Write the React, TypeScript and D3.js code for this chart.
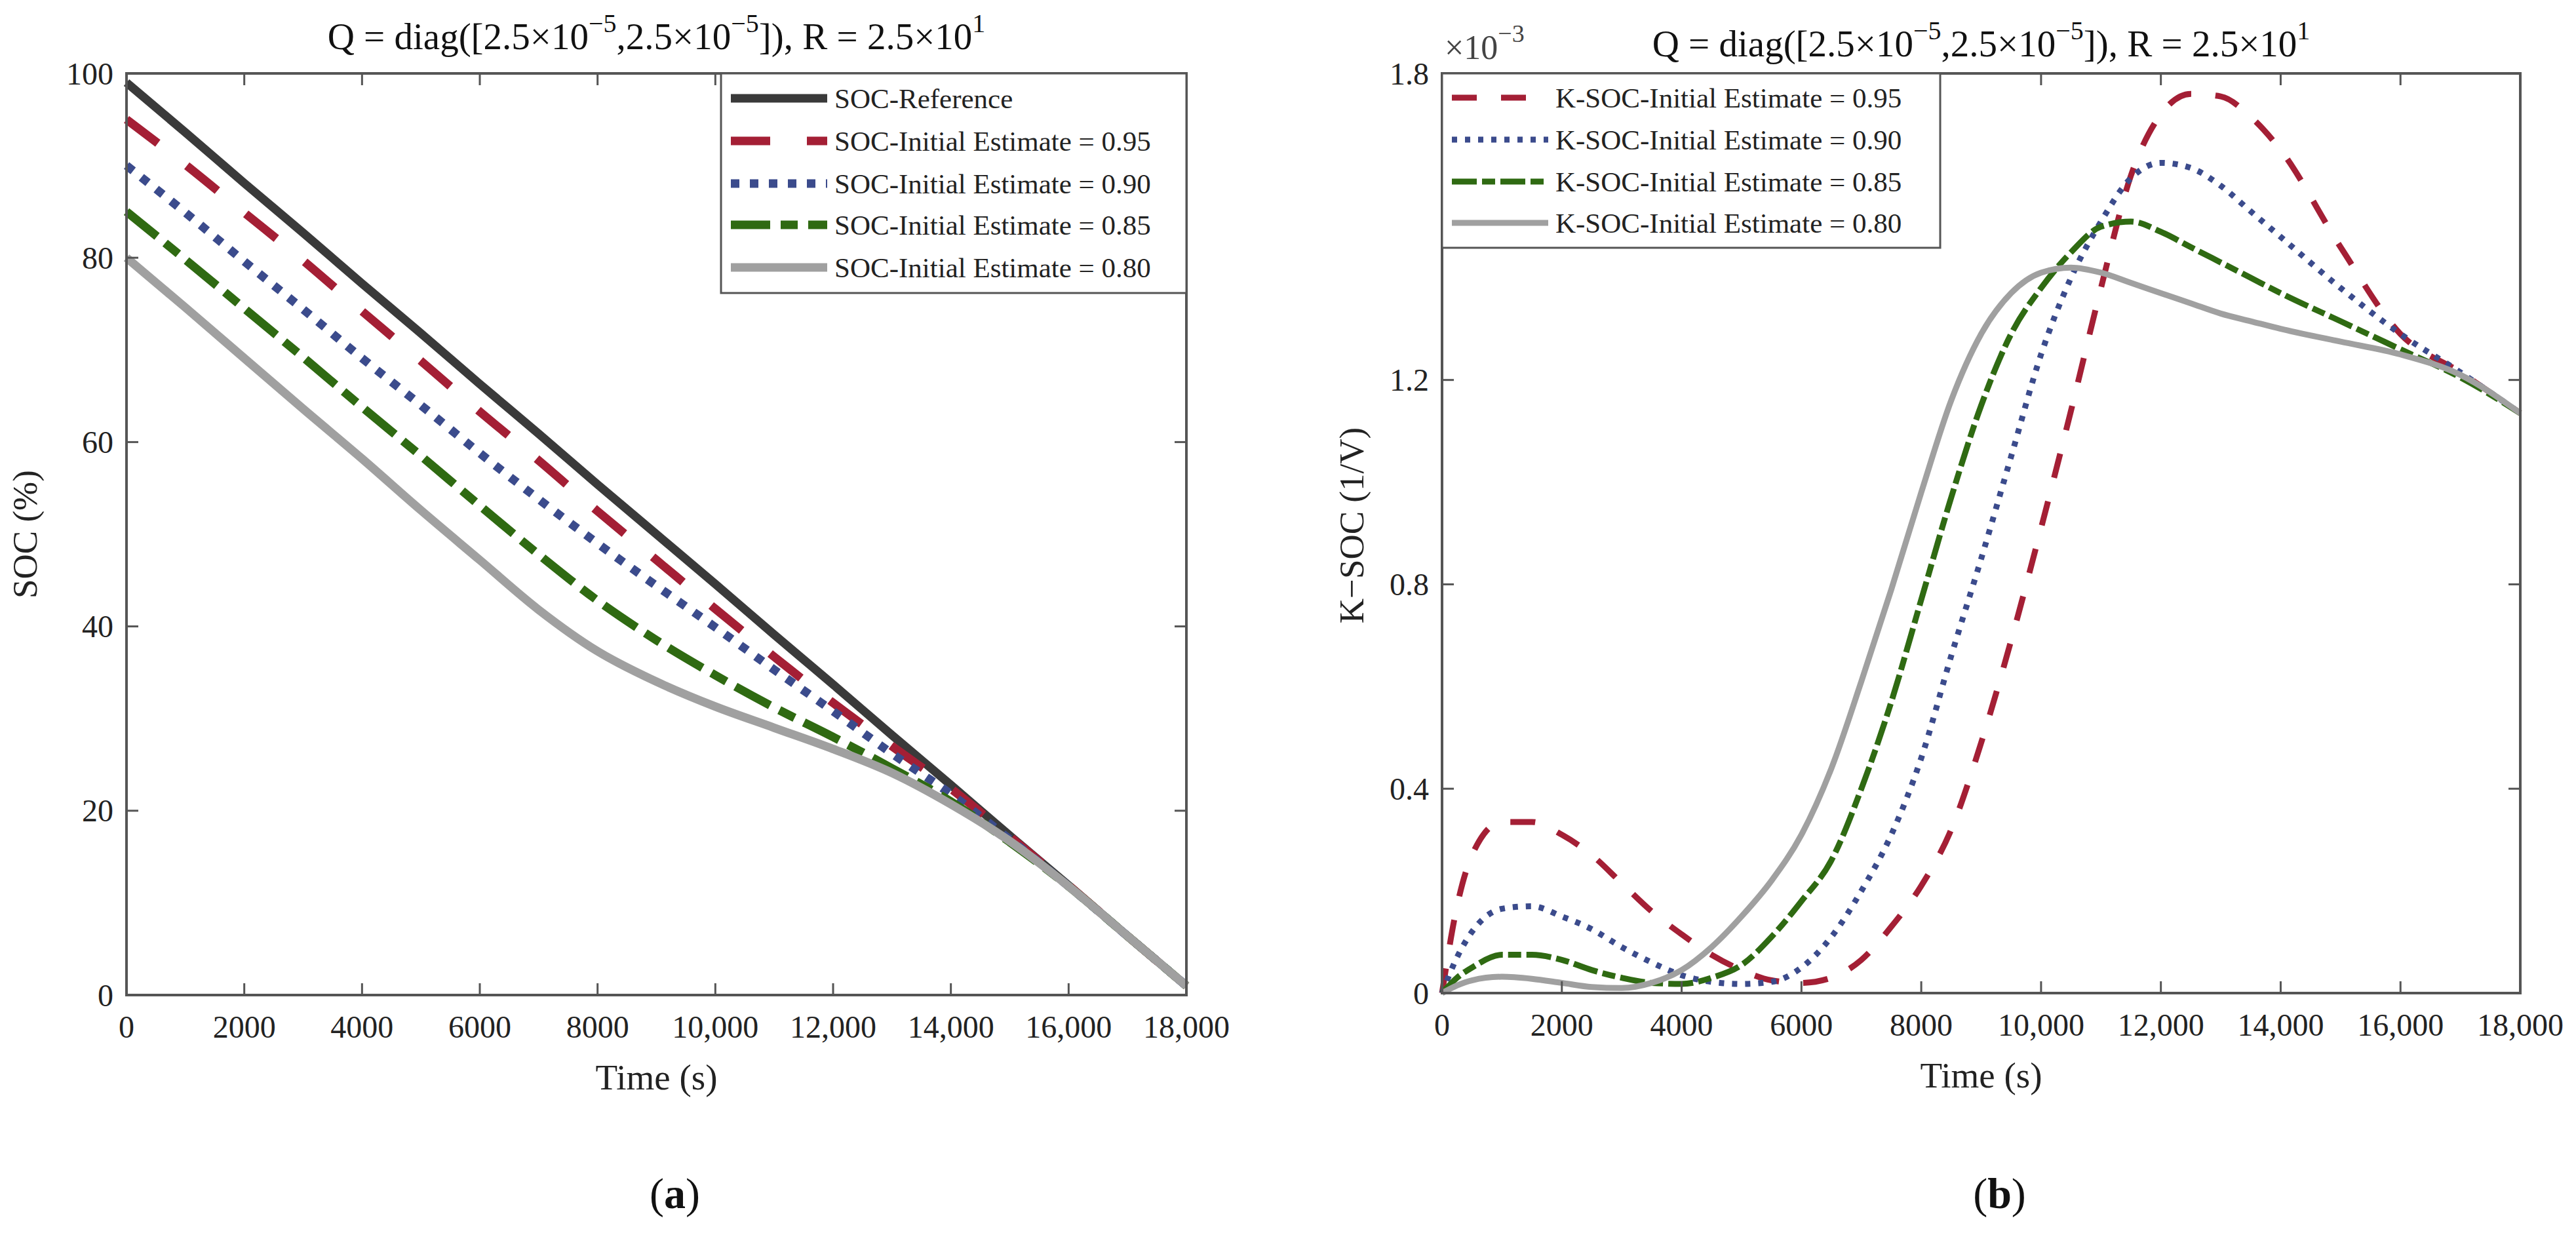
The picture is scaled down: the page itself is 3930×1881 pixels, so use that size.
import React, { useEffect, useRef } from 'react';
import * as d3 from 'd3';

// ---- panel (a): SOC estimates, sampled every 1000 s ----
const timeSoc = [0, 1000, 2000, 3000, 4000, 5000, 6000, 7000, 8000, 9000, 10000, 11000, 12000, 13000, 14000, 15000, 16000, 17000, 18000];
const socReference = [99, 93.6, 88.1, 82.7, 77.2, 71.8, 66.3, 60.9, 55.4, 50, 44.6, 39.1, 33.7, 28.2, 22.8, 17.3, 11.9, 6.4, 1];
const socEst095 = [95, 90.1, 84.9, 79.7, 74.2, 68.8, 63.3, 58.0, 52.5, 47.2, 41.9, 36.7, 31.7, 27.0, 22.4, 17.2, 11.9, 6.4, 1];
const socEst090 = [90, 84.9, 79.6, 74.4, 69.1, 64.0, 58.8, 53.8, 49.0, 44.4, 39.9, 35.3, 30.8, 26.2, 21.8, 16.9, 11.8, 6.4, 1];
const socEst085 = [85, 79.8, 74.5, 69.2, 63.8, 58.5, 53.1, 47.8, 42.8, 38.5, 34.7, 31.2, 28.0, 24.6, 21.0, 16.6, 11.8, 6.4, 1];
const socEst080 = [80, 74.6, 69.1, 63.6, 58.2, 52.6, 47.2, 41.8, 37.3, 34.0, 31.3, 29.0, 26.7, 24.1, 20.7, 16.7, 11.8, 6.4, 1];
const socLabels = ['SOC-Reference', 'SOC-Initial Estimate = 0.95', 'SOC-Initial Estimate = 0.90', 'SOC-Initial Estimate = 0.85', 'SOC-Initial Estimate = 0.80'];
const socTicks = [0, 20, 40, 60, 80, 100];

// ---- panel (b): Kalman gain for SOC (x10^-3 1/V) ----
const timeGain = [0, 250, 500, 1000, 1500, 2000, 2500, 3000, 3500, 4000, 4500, 5000, 5500, 6000, 6500, 7000, 7500, 8000, 8500, 9000, 9500, 10000, 10500, 11000, 11500, 12000, 12500, 13000, 13500, 14000, 15000, 16000, 17000, 18000];
const gainEst095 = [0, 0.17, 0.27, 0.335, 0.335, 0.31, 0.27, 0.215, 0.16, 0.115, 0.075, 0.045, 0.025, 0.02, 0.03, 0.065, 0.13, 0.21, 0.32, 0.49, 0.69, 0.91, 1.14, 1.38, 1.6, 1.72, 1.76, 1.755, 1.715, 1.65, 1.46, 1.29, 1.215, 1.135];
const gainEst090 = [0, 0.07, 0.12, 0.165, 0.17, 0.15, 0.125, 0.09, 0.06, 0.035, 0.022, 0.018, 0.022, 0.05, 0.11, 0.2, 0.31, 0.46, 0.66, 0.85, 1.05, 1.25, 1.4, 1.51, 1.595, 1.625, 1.615, 1.58, 1.53, 1.48, 1.38, 1.29, 1.215, 1.135];
const gainEst085 = [0, 0.03, 0.05, 0.075, 0.075, 0.065, 0.045, 0.03, 0.02, 0.018, 0.03, 0.055, 0.11, 0.18, 0.26, 0.4, 0.57, 0.77, 0.97, 1.15, 1.29, 1.38, 1.45, 1.5, 1.51, 1.49, 1.46, 1.43, 1.4, 1.37, 1.315, 1.26, 1.205, 1.135];
const gainEst080 = [0, 0.015, 0.025, 0.032, 0.028, 0.02, 0.012, 0.01, 0.02, 0.045, 0.09, 0.15, 0.22, 0.31, 0.44, 0.61, 0.79, 0.98, 1.16, 1.29, 1.37, 1.41, 1.42, 1.41, 1.39, 1.37, 1.35, 1.33, 1.315, 1.3, 1.275, 1.25, 1.21, 1.135];
const gainLabels = ['K-SOC-Initial Estimate = 0.95', 'K-SOC-Initial Estimate = 0.90', 'K-SOC-Initial Estimate = 0.85', 'K-SOC-Initial Estimate = 0.80'];
const gainTicks = [0, 0.4, 0.8, 1.2, 1.8];

const timeTicks = [0, 2000, 4000, 6000, 8000, 10000, 12000, 14000, 16000, 18000];

const FONT = '"Liberation Serif", "Times New Roman", serif';
const FRAME = '#555555';

interface Series {
  label: string;
  values: number[];
  color: string;
  dash: string | null;
}

interface PanelOpts {
  left: number;
  right: number;
  top: number;
  bottom: number;
  times: number[];
  series: Series[];
  yMax: number;
  yTicks: number[];
  yFormat: (d: number) => string;
  yLabel: string;
  lineWidth: number;
  legendX: number;
  legendRight: number;
  legendBottom: number;
  legendRows: number[];
  titleY: number;
  panelTag: string;
  exponent: boolean;
}

const xFormat = (d: number) => (d >= 10000 ? d3.format(',')(d) : String(d));

function drawPanel(svg: d3.Selection<SVGSVGElement, unknown, null, undefined>, o: PanelOpts) {
  const x = d3.scaleLinear().domain([0, 18000]).range([o.left, o.right]);
  const y = d3.scaleLinear().domain([0, o.yMax]).range([o.bottom, o.top]);
  const g = svg.append('g');
  const cx = (o.left + o.right) / 2;

  // Lines
  o.series.forEach((s) => {
    const pts = o.times.map((t, i) => [t, s.values[i]] as [number, number]);
    const line = d3.line<[number, number]>()
      .x((d) => x(d[0]))
      .y((d) => y(d[1]))
      .curve(d3.curveMonotoneX);
    g.append('path')
      .attr('d', line(pts))
      .attr('fill', 'none')
      .attr('stroke', s.color)
      .attr('stroke-width', o.lineWidth)
      .attr('stroke-dasharray', s.dash)
      .attr('stroke-linejoin', 'round');
  });

  // Frame + ticks (mirrored, inward)
  g.append('rect')
    .attr('x', o.left).attr('y', o.top)
    .attr('width', o.right - o.left).attr('height', o.bottom - o.top)
    .attr('fill', 'none').attr('stroke', FRAME).attr('stroke-width', 4);

  const tickLen = 18;
  timeTicks.forEach((t) => {
    g.append('line').attr('x1', x(t)).attr('x2', x(t)).attr('y1', o.bottom).attr('y2', o.bottom - tickLen)
      .attr('stroke', FRAME).attr('stroke-width', 3);
    g.append('line').attr('x1', x(t)).attr('x2', x(t)).attr('y1', o.top).attr('y2', o.top + tickLen)
      .attr('stroke', FRAME).attr('stroke-width', 3);
    g.append('text')
      .attr('x', x(t)).attr('y', o.bottom + 48)
      .attr('text-anchor', 'middle').attr('dominant-baseline', 'central')
      .style('font-family', FONT).style('font-size', '48px').style('fill', '#222')
      .text(xFormat(t));
  });
  o.yTicks.forEach((v) => {
    g.append('line').attr('x1', o.left).attr('x2', o.left + tickLen).attr('y1', y(v)).attr('y2', y(v))
      .attr('stroke', FRAME).attr('stroke-width', 3);
    g.append('line').attr('x1', o.right).attr('x2', o.right - tickLen).attr('y1', y(v)).attr('y2', y(v))
      .attr('stroke', FRAME).attr('stroke-width', 3);
    g.append('text')
      .attr('x', o.left - 20).attr('y', y(v))
      .attr('text-anchor', 'end').attr('dominant-baseline', 'central')
      .style('font-family', FONT).style('font-size', '48px').style('fill', '#222')
      .text(o.yFormat(v));
  });

  // Axis labels
  g.append('text')
    .attr('x', cx).attr('y', o.bottom + 125)
    .attr('text-anchor', 'middle').attr('dominant-baseline', 'central')
    .style('font-family', FONT).style('font-size', '55px').style('fill', '#222')
    .text('Time (s)');
  const yLabelX = o.left - (o.exponent ? 138 : 155);
  g.append('text')
    .attr('transform', `translate(${yLabelX},${(o.top + o.bottom) / 2 - (o.exponent ? 12 : 0)}) rotate(-90)`)
    .attr('text-anchor', 'middle').attr('dominant-baseline', 'central')
    .style('font-family', FONT).style('font-size', '53px').style('fill', '#222')
    .text(o.yLabel);

  // Exponent marker
  if (o.exponent) {
    const ex = g.append('text')
      .attr('x', o.left + 4).attr('y', o.top - 22)
      .style('font-family', FONT).style('font-size', '52px').style('fill', '#444');
    ex.append('tspan').text('×10');
    ex.append('tspan').attr('dy', -26).style('font-size', '38px').text('−3');
  }

  // Title
  const title = g.append('text')
    .attr('x', cx).attr('y', o.titleY)
    .attr('text-anchor', 'middle')
    .style('font-family', FONT).style('font-size', '57px').style('fill', '#111');
  const parts: Array<[string, boolean]> = [
    ['Q = diag([2.5×10', false], ['−5', true], [',2.5×10', false], ['−5', true],
    ['])', false], [', R = 2.5×10', false], ['1', true],
  ];
  let sup = false;
  parts.forEach(([txt, isSup]) => {
    const ts = title.append('tspan').text(txt);
    if (isSup && !sup) { ts.attr('dy', -26).style('font-size', '40px'); sup = true; }
    else if (!isSup && sup) { ts.attr('dy', 26); sup = false; }
    else if (isSup) ts.style('font-size', '40px');
  });

  // Legend
  g.append('rect')
    .attr('x', o.legendX).attr('y', o.top)
    .attr('width', o.legendRight - o.legendX).attr('height', o.legendBottom - o.top)
    .attr('fill', 'white').attr('stroke', FRAME).attr('stroke-width', 3);
  o.series.forEach((s, i) => {
    const ly = o.legendRows[i];
    g.append('line')
      .attr('x1', o.legendX + 15).attr('x2', o.legendX + 162)
      .attr('y1', ly).attr('y2', ly)
      .attr('stroke', s.color).attr('stroke-width', o.lineWidth)
      .attr('stroke-dasharray', s.dash);
    g.append('text')
      .attr('x', o.legendX + 173).attr('y', ly)
      .attr('dominant-baseline', 'central')
      .style('font-family', FONT).style('font-size', '43px').style('fill', '#222')
      .text(s.label);
  });

  // Panel tag
  const tag = g.append('text')
    .attr('x', cx + 28).attr('y', 1820)
    .attr('text-anchor', 'middle').attr('dominant-baseline', 'central')
    .style('font-family', FONT).style('font-size', '66px').style('fill', '#111');
  tag.append('tspan').text('(');
  tag.append('tspan').style('font-weight', 'bold').text(o.panelTag);
  tag.append('tspan').text(')');
}

export default function App() {
  const ref = useRef<SVGSVGElement>(null);

  useEffect(() => {
    document.body.style.margin = '0';
    if (!ref.current) return;
    const svg = d3.select(ref.current);
    svg.selectAll('*').remove();

    const colors = ['#3a3a3a', '#a41f35', '#3b4b8c', '#2f6a12', '#a0a0a0'];

    drawPanel(svg, {
      left: 193, right: 1810, top: 112, bottom: 1518,
      times: timeSoc,
      series: [
        { label: socLabels[0], values: socReference, color: colors[0], dash: null },
        { label: socLabels[1], values: socEst095, color: colors[1], dash: '60 56' },
        { label: socLabels[2], values: socEst090, color: colors[2], dash: '13 16' },
        { label: socLabels[3], values: socEst085, color: colors[3], dash: '60 16 26 16' },
        { label: socLabels[4], values: socEst080, color: colors[4], dash: null },
      ],
      yMax: 100, yTicks: socTicks, yFormat: (d) => String(d), yLabel: 'SOC (%)',
      lineWidth: 13,
      legendX: 1100, legendRight: 1810, legendBottom: 447,
      legendRows: [150, 215, 280, 343, 408],
      titleY: 75, panelTag: 'a', exponent: false,
    });

    drawPanel(svg, {
      left: 2200, right: 3845, top: 112, bottom: 1515,
      times: timeGain,
      series: [
        { label: gainLabels[0], values: gainEst095, color: colors[1], dash: '38 37' },
        { label: gainLabels[1], values: gainEst090, color: colors[2], dash: '8 12' },
        { label: gainLabels[2], values: gainEst085, color: colors[3], dash: '38 8 20 8' },
        { label: gainLabels[3], values: gainEst080, color: colors[4], dash: null },
      ],
      yMax: 1.8, yTicks: gainTicks, yFormat: (d) => String(d), yLabel: 'K−SOC (1/V)',
      lineWidth: 9,
      legendX: 2200, legendRight: 2960, legendBottom: 378,
      legendRows: [149, 213, 277, 340],
      titleY: 86, panelTag: 'b', exponent: true,
    });
  }, []);

  return (
    <svg ref={ref} width={3930} height={1881} style={{ display: 'block', background: 'white' }} />
  );
}
